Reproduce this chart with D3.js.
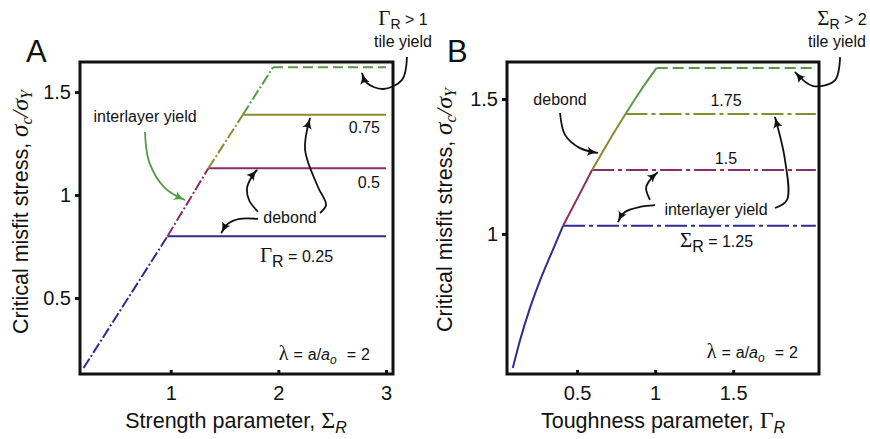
<!DOCTYPE html>
<html>
<head>
<meta charset="utf-8">
<script src="https://cdn.jsdelivr.net/npm/d3@7/dist/d3.min.js"></script>
<style>
  html, body { margin: 0; padding: 0; background: #fff; }
  svg { display: block; }
  text { font-family: "Liberation Sans", Arial, Helvetica, sans-serif; fill: #111; }
  .greek { font-family: "Liberation Serif", "Times New Roman", serif; }
</style>
</head>
<body>
<svg id="chart" width="870" height="439"></svg>
<script>
// ---- Series colours, one per parameter level ----
const levelColors = ["#2f2d8c", "#8a2c68", "#8c8a2e", "#559a44"];

// ---- Panel A: critical misfit stress vs strength parameter Σ_R ----
const aLevels = ["0.25", "0.5", "0.75", ">1"];          // Γ_R values
const aBreakSigma  = [0.19, 0.97, 1.35, 1.67, 1.95];    // breakpoints along the rising line
const aBreakStress = [0.16, 0.80, 1.13, 1.39, 1.62];
const aPlateauEnd = 3.0;
const aXTicks = [1, 2, 3];
const aYTicks = [0.5, 1, 1.5];

// ---- Panel B: critical misfit stress vs toughness parameter Γ_R ----
const bLevels = ["1.25", "1.5", "1.75", ">2"];          // Σ_R values
const bGamma  = [0.088, 0.135, 0.199, 0.263, 0.338, 0.410, 0.50, 0.596, 0.70, 0.81, 0.90, 1.01];
const bStress = [0.503, 0.607, 0.727, 0.828, 0.932, 1.030, 1.130, 1.237, 1.340, 1.444, 1.525, 1.615];
const bBreakIndex = [0, 5, 7, 9, 11];                   // where the colour changes
const bPlateauEnd = 2.03;
const bXTicks = [0.5, 1, 1.5];
const bYTicks = [1, 1.5];

const svg = d3.select("#chart");
const defs = svg.append("defs");

const markerIds = {};
function arrowMarker(color) {
  if (markerIds[color]) return markerIds[color];
  const id = "head" + Object.keys(markerIds).length;
  defs.append("marker")
    .attr("id", id)
    .attr("viewBox", "0 -5 12 10")
    .attr("refX", 10).attr("refY", 0)
    .attr("markerWidth", 13).attr("markerHeight", 11)
    .attr("markerUnits", "userSpaceOnUse")
    .attr("orient", "auto")
    .append("path")
    .attr("d", "M0,-4.5 Q4,-1 11,0 Q4,1 0,4.5 Q2.5,0 0,-4.5Z")
    .attr("fill", color);
  markerIds[color] = id;
  return id;
}

function makePanel(opts) {
  const g = svg.append("g");
  const x = d3.scaleLinear().domain(opts.xDomain).range([opts.left, opts.right]);
  const y = d3.scaleLinear().domain(opts.yDomain).range([opts.bottom, opts.top]);

  // y ticks (outward) and labels
  const yAxis = d3.axisLeft(y).tickValues(opts.yTicks).tickSize(5).tickPadding(4)
    .tickFormat(d3.format("~g"));
  const ya = g.append("g").attr("transform", `translate(${opts.left},0)`).call(yAxis);
  ya.select(".domain").remove();
  ya.selectAll("line").attr("stroke", "#111").attr("stroke-width", 3);
  ya.selectAll("text").attr("font-size", 20).attr("fill", "#111")
    .attr("font-family", "Liberation Sans, Arial, sans-serif");

  // x ticks (inward) and labels
  const xAxis = d3.axisBottom(x).tickValues(opts.xTicks).tickSize(-4).tickPadding(12)
    .tickFormat(d3.format("~g"));
  const xa = g.append("g").attr("transform", `translate(0,${opts.bottom})`).call(xAxis);
  xa.select(".domain").remove();
  xa.selectAll("line").attr("stroke", "#111").attr("stroke-width", 3);
  xa.selectAll("text").attr("font-size", 20).attr("fill", "#111")
    .attr("font-family", "Liberation Sans, Arial, sans-serif");

  // frame
  g.append("rect")
    .attr("x", opts.left).attr("y", opts.top)
    .attr("width", opts.right - opts.left).attr("height", opts.bottom - opts.top)
    .attr("fill", "none").attr("stroke", "#111").attr("stroke-width", 3);

  return { g, x, y };
}

const line = (x, y) => d3.line().x(d => x(d[0])).y(d => y(d[1]));

function drawArrow(p, pts, color) {
  p.g.append("path")
    .attr("d", d3.line().curve(d3.curveCatmullRom.alpha(0.5))
      .x(d => p.x(d[0])).y(d => p.y(d[1]))(pts))
    .attr("fill", "none")
    .attr("stroke", color).attr("stroke-width", 1.8)
    .attr("marker-end", `url(#${arrowMarker(color)})`);
}

function label(p, xv, yv, anchor, parts, size) {
  const t = p.g.append("text")
    .attr("x", p.x(xv)).attr("y", p.y(yv))
    .attr("text-anchor", anchor)
    .attr("font-size", size || 16);
  parts.forEach(s => {
    const ts = t.append("tspan").text(s.t);
    if (s.cls) ts.attr("class", s.cls);
    if (s.style) ts.attr("font-style", s.style);
    if (s.dy) ts.attr("dy", s.dy);
    if (s.dx) ts.attr("dx", s.dx);
    if (s.size) ts.attr("font-size", s.size);
  });
  return t;
}

const lambdaParts = [
  { t: "λ", cls: "greek", size: 20 }, { t: "=", dx: 5 }, { t: "a/", dx: 5 }, { t: "a", style: "italic" },
  { t: "o", style: "italic", dy: 4, size: 12 }, { t: "=", dy: -4, dx: 10 }, { t: "2", dx: 5 }];

// ================= Panel A =================
const A = makePanel({
  left: 80, right: 393, top: 62, bottom: 374,
  xDomain: [0.157, 3.065], yDomain: [0.131, 1.646],
  xTicks: aXTicks, yTicks: aYTicks
});
const lineA = line(A.x, A.y);

aLevels.forEach((lev, i) => {
  // rising segment (dash-dot)
  A.g.append("path")
    .attr("d", lineA([[aBreakSigma[i], aBreakStress[i]], [aBreakSigma[i + 1], aBreakStress[i + 1]]]))
    .attr("stroke", levelColors[i]).attr("stroke-width", 2).attr("fill", "none")
    .attr("stroke-dasharray", "11,2.5,2,2.5");
  // plateau
  A.g.append("path")
    .attr("d", lineA([[aBreakSigma[i + 1], aBreakStress[i + 1]], [aPlateauEnd, aBreakStress[i + 1]]]))
    .attr("stroke", levelColors[i]).attr("stroke-width", 2).attr("fill", "none")
    .attr("stroke-dasharray", i === 3 ? "10,5" : null);
});

// annotations, panel A
label(A, 0.761, 1.355, "middle", [{ t: "interlayer yield" }]);
drawArrow(A, [[0.761, 1.306], [0.80, 1.16], [0.947, 1.034], [1.133, 0.976]], "#559a44");
label(A, 2.944, 1.301, "end", [{ t: "0.75" }]);
label(A, 2.944, 1.034, "end", [{ t: "0.5" }]);
label(A, 2.108, 0.864, "middle", [{ t: "debond" }]);
drawArrow(A, [[1.81, 0.884], [1.64, 0.884], [1.53, 0.86], [1.47, 0.815]], "#111");
drawArrow(A, [[1.811, 0.918], [1.727, 0.976], [1.709, 1.034], [1.746, 1.083], [1.802, 1.122]], "#111");
drawArrow(A, [[2.387, 0.913], [2.443, 0.952], [2.368, 1.039], [2.248, 1.219], [2.294, 1.374]], "#111");
label(A, 1.829, 0.675, "start", [
  { t: "Γ", cls: "greek", size: 21 }, { t: "R", dy: 5 }, { t: " = 0.25", dy: -5 }]);
label(A, 2.851, 0.199, "end", lambdaParts);
label(A, 3.158, 1.826, "middle", [
  { t: "Γ", cls: "greek", size: 21 }, { t: "R", dy: 4, size: 14 }, { t: " > 1", dy: -4 }]);
label(A, 3.158, 1.719, "middle", [{ t: "tile yield" }]);
drawArrow(A, [[3.195, 1.670], [3.149, 1.559], [2.972, 1.515], [2.823, 1.544], [2.777, 1.593]], "#111");

// ================= Panel B =================
const B = makePanel({
  left: 507, right: 819, top: 62, bottom: 374,
  xDomain: [0.051, 2.05], yDomain: [0.481, 1.637],
  xTicks: bXTicks, yTicks: bYTicks
});
const lineB = line(B.x, B.y);
const curveB = d3.line().curve(d3.curveMonotoneX).x(d => B.x(d[0])).y(d => B.y(d[1]));
const bPoints = bGamma.map((g, i) => [g, bStress[i]]);

bLevels.forEach((lev, i) => {
  const seg = bPoints.slice(bBreakIndex[i], bBreakIndex[i + 1] + 1);
  B.g.append("path")
    .attr("d", curveB(seg))
    .attr("stroke", levelColors[i]).attr("stroke-width", 2).attr("fill", "none");
  const k = bPoints[bBreakIndex[i + 1]];
  B.g.append("path")
    .attr("d", lineB([k, [bPlateauEnd, k[1]]]))
    .attr("stroke", levelColors[i]).attr("stroke-width", 2).attr("fill", "none")
    .attr("stroke-dasharray", i === 3 ? "11,5" : "22,4,4,4");
});

// annotations, panel B
label(B, 0.391, 1.478, "middle", [{ t: "debond" }]);
drawArrow(B, [[0.391, 1.448], [0.423, 1.367], [0.519, 1.318], [0.634, 1.300]], "#111");
label(B, 1.454, 1.474, "middle", [{ t: "1.75" }]);
label(B, 1.454, 1.259, "middle", [{ t: "1.5" }]);
label(B, 1.390, 1.070, "middle", [{ t: "interlayer yield" }]);
drawArrow(B, [[0.999, 1.107], [0.903, 1.100], [0.807, 1.081], [0.762, 1.044]], "#111");
drawArrow(B, [[0.967, 1.126], [0.942, 1.170], [0.967, 1.200], [1.018, 1.229]], "#111");
drawArrow(B, [[1.768, 1.096], [1.845, 1.126], [1.832, 1.274], [1.768, 1.433]], "#111");
label(B, 1.159, 0.952, "start", [
  { t: "Σ", cls: "greek", size: 21 }, { t: "R", dy: 5 }, { t: " = 1.25", dy: -5 }]);
label(B, 1.915, 0.540, "end", lambdaParts);
label(B, 2.197, 1.774, "middle", [
  { t: "Σ", cls: "greek", size: 21 }, { t: "R", dy: 4, size: 14 }, { t: " > 2", dy: -4 }]);
label(B, 2.165, 1.693, "middle", [{ t: "tile yield" }]);
drawArrow(B, [[2.185, 1.655], [2.153, 1.570], [2.012, 1.548], [1.896, 1.600]], "#111");

// ---- panel letters ----
svg.append("text").attr("x", 26).attr("y", 62).attr("font-size", 31).text("A");
svg.append("text").attr("x", 447).attr("y", 62).attr("font-size", 31).text("B");

// ---- axis titles ----
function xTitle(cx, word, sym) {
  const t = svg.append("text").attr("x", cx).attr("y", 428)
    .attr("text-anchor", "middle").attr("font-size", 21.5);
  t.append("tspan").text(word + ", ");
  t.append("tspan").attr("class", "greek").attr("font-size", 24).text(sym);
  t.append("tspan").attr("font-style", "italic").attr("dy", 5).attr("font-size", 16).text("R");
}
xTitle(236, "Strength parameter", "Σ");
xTitle(663, "Toughness parameter", "Γ");

function yTitle(cx, cy) {
  const t = svg.append("text")
    .attr("transform", `translate(${cx},${cy}) rotate(-90)`)
    .attr("text-anchor", "middle").attr("font-size", 21.5);
  t.append("tspan").text("Critical misfit stress, ");
  t.append("tspan").attr("class", "greek").attr("font-style", "italic").attr("font-size", 25).text("σ");
  t.append("tspan").attr("class", "greek").attr("font-style", "italic").attr("dy", 4).attr("font-size", 16).text("c");
  t.append("tspan").attr("class", "greek").attr("font-style", "italic").attr("dy", -4).attr("font-size", 24).text("/σ");
  t.append("tspan").attr("class", "greek").attr("font-style", "italic").attr("dy", 4).attr("font-size", 16).text("Y");
}
yTitle(28, 212);
yTitle(452, 210);
</script>
</body>
</html>
